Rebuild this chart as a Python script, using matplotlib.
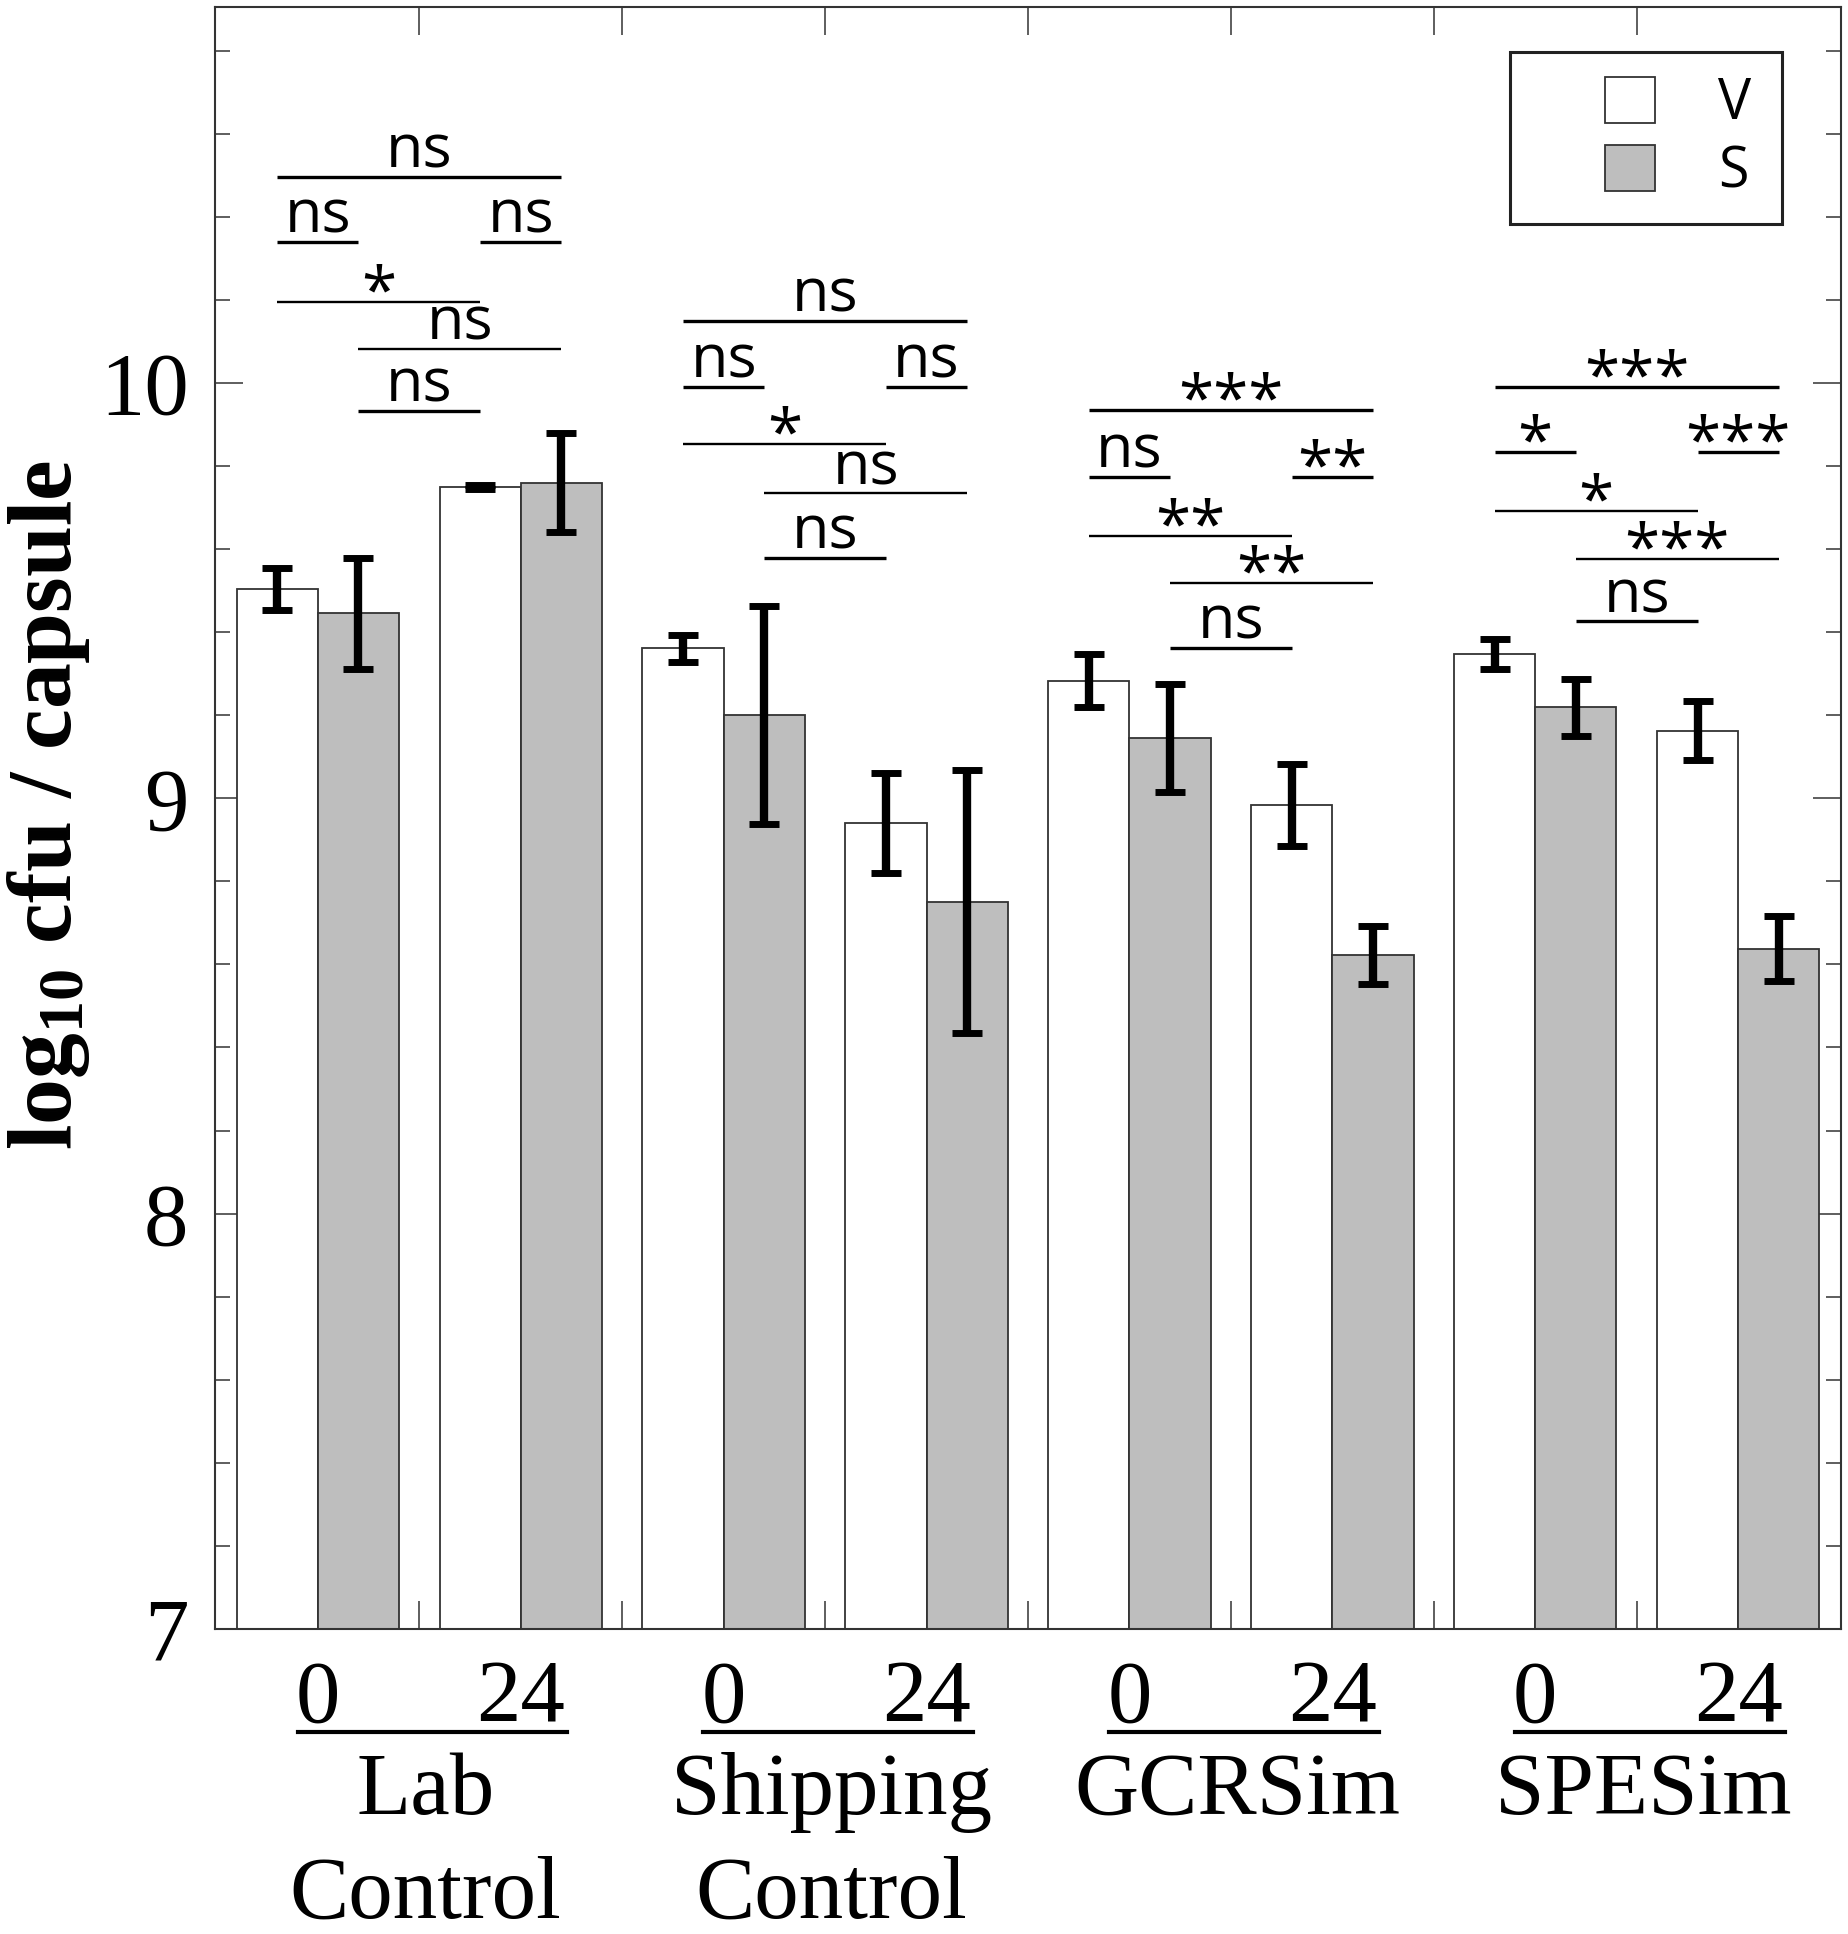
import numpy as np
import matplotlib
matplotlib.use('Agg')
import matplotlib.pyplot as plt
import matplotlib.transforms as mtransforms
from matplotlib.patches import Rectangle
from matplotlib.lines import Line2D

# ---------------- data ----------------
groups = ['Lab\nControl', 'Shipping\nControl', 'GCRSim', 'SPESim']
times = ['0', '24']
series = ['V', 'S']

V_mean = [9.504, 9.749, 9.361, 8.941, 9.283, 8.984, 9.347, 9.163]
V_err = [0.050, 0.005, 0.032, 0.120, 0.064, 0.098, 0.036, 0.070]
S_mean = [9.445, 9.760, 9.200, 8.751, 9.144, 8.623, 9.219, 8.638]
S_err = [0.133, 0.120, 0.263, 0.316, 0.130, 0.070, 0.068, 0.078]

# significance brackets: group, bar a, bar b (0=V 0h, 1=S 0h, 2=V 24h, 3=S 24h), height, label
sig_group = [0, 0, 0, 0, 0, 0,
             1, 1, 1, 1, 1, 1,
             2, 2, 2, 2, 2, 2,
             3, 3, 3, 3, 3, 3]
sig_a = [0, 0, 2, 0, 1, 1] * 4
sig_b = [3, 1, 3, 2, 3, 2] * 4
sig_y = [10.496, 10.340, 10.340, 10.194, 10.082, 9.933,
         10.150, 9.991, 9.991, 9.853, 9.734, 9.579,
         9.935, 9.774, 9.774, 9.631, 9.519, 9.362,
         9.991, 9.834, 9.834, 9.691, 9.577, 9.426]
sig_label = ['ns', 'ns', 'ns', '*', 'ns', 'ns',
             'ns', 'ns', 'ns', '*', 'ns', 'ns',
             '***', 'ns', '**', '**', '**', 'ns',
             '***', '*', '***', '*', '***', 'ns']

# ---------------- style ----------------
plt.rcParams['font.family'] = 'Liberation Serif'
plt.rcParams['mathtext.fontset'] = 'custom'
plt.rcParams['mathtext.rm'] = 'Liberation Serif'
plt.rcParams['mathtext.bf'] = 'Liberation Serif:bold'
plt.rcParams['mathtext.it'] = 'Liberation Serif:italic'

W, H = 1849, 1934
fig = plt.figure(figsize=(W / 100, H / 100), dpi=100)
ax = fig.add_axes([215 / W, 1 - 1629 / H, (1841 - 215) / W, (1629 - 7) / H])

n = len(V_mean)
pos = np.arange(n)
w = 0.4
edge = '#333333'
gray = '#bebebe'

barsV = ax.bar(pos - w / 2, V_mean, w, color='white', edgecolor=edge, linewidth=1.3, zorder=2)
barsS = ax.bar(pos + w / 2, S_mean, w, color=gray, edgecolor=edge, linewidth=1.3, zorder=2)
ax.errorbar(pos - w / 2, V_mean, yerr=V_err, fmt='none', ecolor='black',
            elinewidth=6.0, capsize=11, capthick=5.0, zorder=3)
ax.errorbar(pos + w / 2, S_mean, yerr=S_err, fmt='none', ecolor='black',
            elinewidth=6.0, capsize=11, capthick=5.0, zorder=3)

ax.set_xlim(-0.507, 7.507)
ax.set_ylim(7, 10.905)

# y ticks
ax.set_yticks([7, 8, 9, 10])
ax.set_yticklabels(['7', '8', '9', '10'])
ax.set_yticks(np.arange(7, 10.91, 0.2), minor=True)
ax.tick_params(axis='y', which='major', direction='in', length=20, width=1.1,
               left=True, right=True, labelsize=64, pad=19, color=edge)
ax.tick_params(axis='y', which='minor', direction='in', length=11, width=1.1,
               left=True, right=True, color=edge)

# x ticks: separators (major, unlabeled) and time labels (minor)
ax.set_xticks(np.arange(0.5, n - 1, 1.0))
ax.set_xticklabels([])
ax.set_xticks(pos, minor=True)
ax.set_xticklabels(times * len(groups), minor=True)
ax.tick_params(axis='x', which='major', direction='in', length=20, width=1.1,
               top=True, bottom=True, color=edge)
ax.tick_params(axis='x', which='minor', length=0, pad=22, labelsize=64)

for sp in ax.spines.values():
    sp.set_linewidth(1.5)
    sp.set_color(edge)

# group labels with underline
trans = mtransforms.blended_transform_factory(ax.transData, ax.transAxes)
for g, name in enumerate(groups):
    x0 = 2 * g
    ax.add_line(Line2D([x0 - 0.10, x0 + 1.23], [-0.0635, -0.0635], transform=trans,
                       color='black', lw=3.0, clip_on=False))
    ax.text(x0 + 0.53, -0.0758, name, transform=trans, ha='center', va='top',
            fontsize=64, linespacing=1.37)

# y label
ax.set_ylabel(r'$\mathbf{log_{10}}$ cfu / capsule', fontsize=66, fontweight='bold')
ax.yaxis.set_label_coords(-0.0757, 0.508)

# significance annotations
def bar_x(g, idx):
    return 2 * g + idx // 2 + (-w / 2 if idx % 2 == 0 else w / 2)

for g, a, b, y, lab in zip(sig_group, sig_a, sig_b, sig_y, sig_label):
    xa, xb = bar_x(g, a), bar_x(g, b)
    lw = 1.7 if (a, b) in [(0, 2), (1, 3)] else 2.4
    ax.plot([xa, xb], [y, y], color='black', lw=lw, solid_capstyle='butt', zorder=4)
    if lab == 'ns':
        ax.text((xa + xb) / 2, y + 0.022, lab, ha='center', va='baseline', fontsize=44,
                family='Open Sans', zorder=4)
    else:
        ax.text((xa + xb) / 2, y - 0.025, lab, ha='center', va='baseline', fontsize=46,
                family='Open Sans', zorder=4)

# legend
leg = ax.legend([barsV, barsS], series, loc='center', bbox_to_anchor=(0.8998, 0.9186),
                frameon=False, prop={'family': 'Open Sans', 'size': 40},
                handlelength=0.9, handleheight=0.9, handletextpad=1.15,
                labelspacing=0.2, borderpad=0)
ax.add_patch(Rectangle((0.7964, 0.8662), 0.9637 - 0.7964, 0.9723 - 0.8662,
                       transform=ax.transAxes, fill=False, lw=2.2, edgecolor='#222222',
                       zorder=5))

fig.savefig('out.png', dpi=100)
